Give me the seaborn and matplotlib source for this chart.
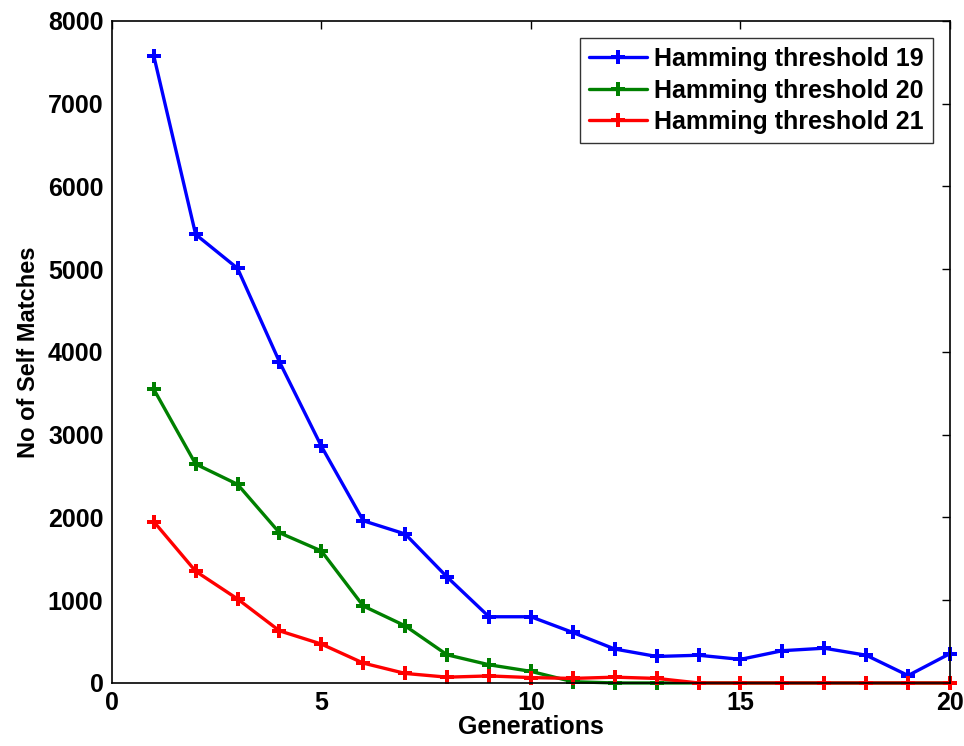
import pandas as pd
import matplotlib
matplotlib.use("Agg")
import matplotlib.pyplot as plt
import seaborn as sns

generations = list(range(1, 21))
thr19 = [7580, 5420, 5010, 3880, 2860, 1960, 1800, 1280, 800, 800,
         610, 410, 320, 335, 285, 390, 420, 335, 90, 355]
thr20 = [3550, 2645, 2400, 1815, 1595, 930, 690, 340, 220, 140,
         15, 0, 0, 0, 0, 0, 0, 0, 0, 0]
thr21 = [1950, 1350, 1015, 630, 470, 240, 115, 70, 85, 65,
         55, 70, 55, 0, 0, 0, 0, 0, 0, 0]
labels = ["Hamming threshold 19", "Hamming threshold 20", "Hamming threshold 21"]
colors = ["#0000ff", "#008000", "#ff0000"]

df = pd.DataFrame({
    "Generations": generations * 3,
    "matches": thr19 + thr20 + thr21,
    "series": [labels[0]] * 20 + [labels[1]] * 20 + [labels[2]] * 20,
})

sns.set_style("white")
plt.rcParams["font.family"] = ["Liberation Sans", "DejaVu Sans"]
plt.rcParams["font.weight"] = "bold"
plt.rcParams["text.color"] = "black"
plt.rcParams["axes.labelcolor"] = "black"

fig = plt.figure(figsize=(9.64, 7.46), dpi=100)
ax = fig.add_axes([0.116, 0.0845, 0.8695, 0.8875])

sns.lineplot(data=df, x="Generations", y="matches", hue="series",
             palette=colors, marker="P", markersize=10, markeredgewidth=0,
             linewidth=2.4, ax=ax)
for ln in ax.lines:
    ln.set_clip_on(False)

ax.set_xlim(0, 20)
ax.set_ylim(0, 8000)
ax.set_xticks([0, 5, 10, 15, 20])
ax.set_yticks(range(0, 8001, 1000))
ax.tick_params(direction="in", top=True, right=True, length=6, width=1,
               labelsize=18, colors="black", pad=6)
for lab in ax.get_xticklabels() + ax.get_yticklabels():
    lab.set_fontweight("bold")
for sp in ax.spines.values():
    sp.set_color("black")
    sp.set_linewidth(1.2)

ax.set_xlabel("Generations", fontsize=18, fontweight="bold", labelpad=0, color="black")
ax.set_ylabel("No of Self Matches", fontsize=17, fontweight="bold", labelpad=6, color="black")

leg = ax.legend(loc="upper right", fontsize=18, frameon=True, fancybox=False,
                edgecolor="black", handlelength=2.3, handletextpad=0.3,
                borderaxespad=0.7, borderpad=0.35, labelspacing=0.3)
leg.get_frame().set_linewidth(1.0)
for t in leg.get_texts():
    t.set_fontweight("bold")
    t.set_color("black")

fig.savefig("out.png", dpi=100)
